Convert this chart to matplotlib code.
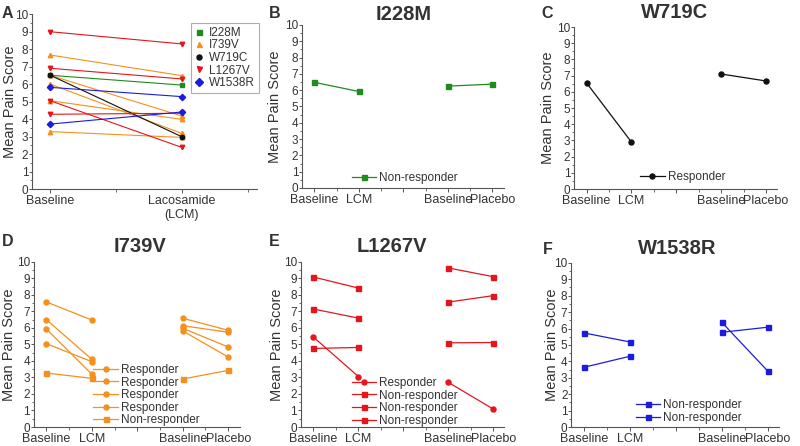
import numpy as np
import matplotlib.pyplot as plt
from matplotlib.ticker import MultipleLocator

plt.rcParams['font.family'] = ['Liberation Sans', 'DejaVu Sans']

GREEN = '#1e8c1e'
ORANGE = '#f5901e'
RED = '#e4161c'
BLUE = '#1c1ce0'
BLACK = '#111111'
TXT = '#333333'
SPINE = '#555555'

## panel A: baseline vs lacosamide, all patients grouped by genotype
a_ticks = ['Baseline', 'Lacosamide\n(LCM)']
a_i228m_base = [6.50]
a_i228m_lcm = [5.94]
a_i739v_base = [7.66, 6.50, 6.00, 5.05, 3.28]
a_i739v_lcm = [6.48, 4.17, 3.18, 3.98, 2.95]
a_w719c_base = [6.51]
a_w719c_lcm = [2.99]
a_l1267v_base = [8.99, 6.90, 5.05, 4.27]
a_l1267v_lcm = [8.29, 6.29, 2.38, 4.33]
a_w1538r_base = [5.81, 3.71]
a_w1538r_lcm = [5.28, 4.40]

## panels B-F: baseline/LCM and baseline/placebo per patient
bf_ticks = ['Baseline', 'LCM', '', 'Baseline', 'Placebo']

b_base = [6.48]
b_lcm = [5.92]
b_base_plc = [6.25]
b_plc = [6.37]
b_resp = ['Non-responder']

c_base = [6.55]
c_lcm = [2.90]
c_base_plc = [7.10]
c_plc = [6.67]
c_resp = ['Responder']

d_base = [7.58, 6.51, 5.94, 5.05, 3.27]
d_lcm = [6.48, 4.10, 3.20, 3.96, 2.95]
d_base_plc = [6.59, 6.14, 5.98, 5.82, 2.91]
d_plc = [5.86, 5.74, 4.85, 4.24, 3.43]
d_resp = ['Responder', 'Responder', 'Responder', 'Responder', 'Non-responder']

e_base = [5.45, 9.09, 7.15, 4.76]
e_lcm = [3.06, 8.42, 6.60, 4.82]
e_base_plc = [2.71, 9.64, 7.57, 5.10]
e_plc = [1.09, 9.11, 7.96, 5.12]
e_resp = ['Responder', 'Non-responder', 'Non-responder', 'Non-responder']

f_base = [5.73, 3.64]
f_lcm = [5.18, 4.31]
f_base_plc = [6.38, 5.77]
f_plc = [3.41, 6.08]
f_resp = ['Non-responder', 'Non-responder']


def style_axes(ax, label_x):
    for s in ['top', 'right']:
        ax.spines[s].set_visible(False)
    for s in ['left', 'bottom']:
        ax.spines[s].set_color(SPINE)
        ax.spines[s].set_linewidth(0.8)
    ax.set_ylim(0, 10)
    ax.yaxis.set_major_locator(MultipleLocator(1))
    ax.yaxis.set_minor_locator(MultipleLocator(0.5))
    ax.tick_params(axis='y', which='major', labelsize=8.5, length=2.2, width=0.7,
                   colors=SPINE, labelcolor=TXT, pad=0.5)
    ax.tick_params(axis='y', which='minor', length=1.5, width=0.6, colors=SPINE)
    ax.tick_params(axis='x', which='major', labelsize=9, length=3, width=0.7,
                   colors=SPINE, labelcolor=TXT, pad=1.5)
    ax.tick_params(axis='x', which='minor', length=2, width=0.6, colors=SPINE)
    ax.set_ylabel('Mean Pain Score', fontsize=10.5, color=TXT)
    ##label_x is the label's right edge, in pixels of the 800 px wide figure
    pos = ax.get_position()
    ax.yaxis.set_label_coords(label_x / 800, pos.y0 + pos.height / 2,
                              transform=fig.transFigure)


def patient_panel(ax, base, lcm, base_plc, plc, resp, color, label_x):
    ##one line per patient, broken at x=3 so LCM and placebo pairs stay separate
    for i in range(len(base)):
        mk = 'o' if resp[i] == 'Responder' else 's'
        ax.plot([1, 2, 3, 4, 5], [base[i], lcm[i], np.nan, base_plc[i], plc[i]],
                color=color, lw=0.9, marker=mk, ms=3.6, label=resp[i])
    ax.set_xlim(0.72, 5.25)
    ax.set_xticks([1, 2, 3, 4, 5])
    ax.set_xticklabels(bf_ticks)
    ax.xaxis.set_minor_locator(MultipleLocator(0.5))
    style_axes(ax, label_x)


def panel_legend(ax, cx, cy):
    ax.legend(loc='center', bbox_to_anchor=(cx, cy), bbox_transform=fig.transFigure,
              frameon=False, fontsize=8.5, handlelength=2.1, handletextpad=0.25,
              labelspacing=0.05, borderpad=0.1, numpoints=1, labelcolor=TXT)


fig = plt.figure(figsize=(8, 4.46), dpi=100)

## panel A
axA = fig.add_axes([0.040, 0.5762, 0.281, 0.3924])
for base, lcm, col, mk, name in [
        (a_i228m_base, a_i228m_lcm, GREEN, 's', 'I228M'),
        (a_i739v_base, a_i739v_lcm, ORANGE, '^', 'I739V'),
        (a_w719c_base, a_w719c_lcm, BLACK, 'o', 'W719C'),
        (a_l1267v_base, a_l1267v_lcm, RED, 'v', 'L1267V'),
        (a_w1538r_base, a_w1538r_lcm, BLUE, 'D', 'W1538R')]:
    for i in range(len(base)):
        axA.plot([0, 1], [base[i], lcm[i]], color=col, lw=0.8, marker=mk, ms=3.2)
    axA.plot([], [], ls='none', marker=mk, ms=3.6, color=col, label=name)
axA.set_xlim(-0.136, 1.57)
axA.set_xticks([0, 1])
axA.set_xticklabels(a_ticks)
axA.xaxis.set_minor_locator(MultipleLocator(0.5))
style_axes(axA, 17)
legA = axA.legend(loc='center', bbox_to_anchor=(0.281, 0.870), bbox_transform=fig.transFigure,
                  fontsize=8.5, handlelength=0.7, handletextpad=0.5, labelspacing=0.05,
                  borderpad=0.35, fancybox=False, edgecolor='#999999', labelcolor=TXT)
legA.get_frame().set_linewidth(0.8)

## panels B-F
axB = fig.add_axes([0.3775, 0.5785, 0.252, 0.3655])
patient_panel(axB, b_base, b_lcm, b_base_plc, b_plc, b_resp, GREEN, 282)
panel_legend(axB, 0.506, 0.601)

axC = fig.add_axes([0.7175, 0.5762, 0.254, 0.3632])
patient_panel(axC, c_base, c_lcm, c_base_plc, c_plc, c_resp, BLACK, 555)
panel_legend(axC, 0.853, 0.603)

axD = fig.add_axes([0.042, 0.0426, 0.2575, 0.370])
patient_panel(axD, d_base, d_lcm, d_base_plc, d_plc, d_resp, ORANGE, 16)
panel_legend(axD, 0.183, 0.114)

axE = fig.add_axes([0.376, 0.0426, 0.2545, 0.370])
patient_panel(axE, e_base, e_lcm, e_base_plc, e_plc, e_resp, RED, 284)
panel_legend(axE, 0.506, 0.099)

axF = fig.add_axes([0.714, 0.0426, 0.260, 0.368])
patient_panel(axF, f_base, f_lcm, f_base_plc, f_plc, f_resp, BLUE, 559)
panel_legend(axF, 0.861, 0.077)

## panel titles and letters
for x, y, t in [(404, 14, 'I228M'), (675, 13, 'W719C'), (140, 246, 'I739V'),
                (392, 246, 'L1267V'), (677, 248, 'W1538R')]:
    fig.text(x / 800, 1 - y / 446, t, ha='center', va='center', fontsize=14.5,
             fontweight='bold', color=TXT)
for x, y, t in [(7, 13, 'A'), (275, 13, 'B'), (547, 13, 'C'),
                (8, 241, 'D'), (274, 241, 'E'), (548, 250, 'F')]:
    fig.text(x / 800, 1 - y / 446, t, ha='center', va='center', fontsize=11.5,
             fontweight='bold', color=TXT)

fig.savefig('out.png', dpi=100)
